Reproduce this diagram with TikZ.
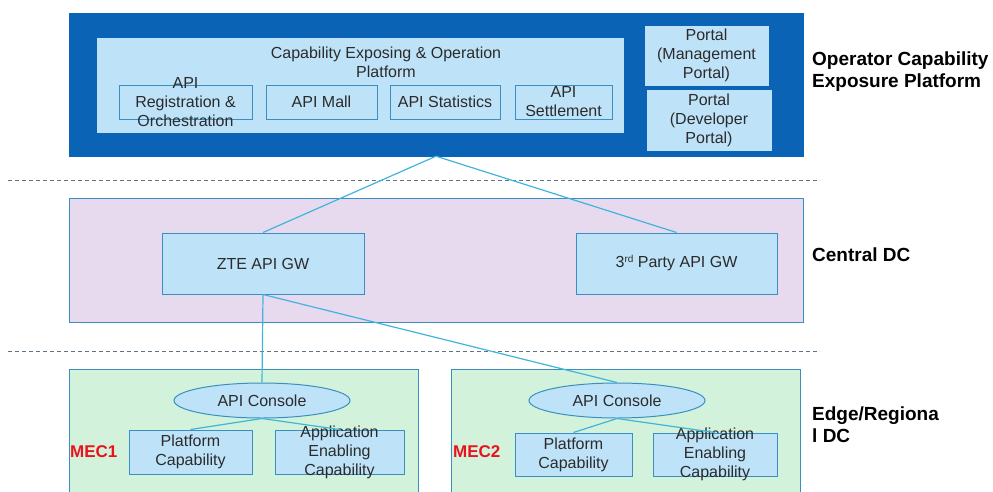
\documentclass[tikz,border=0pt]{standalone}
\usepackage{fontspec}
\setmainfont{Liberation Sans}
\usetikzlibrary{shapes.geometric}
\definecolor{darkb}{HTML}{0B63B5}
\definecolor{lb}{HTML}{BEE3F8}
\definecolor{bord}{HTML}{3A8FC0}
\definecolor{lav}{HTML}{E8DAEE}
\definecolor{grn}{HTML}{D2F2DC}
\definecolor{conn}{HTML}{40B4DC}
\definecolor{dsh}{HTML}{5F7384}
\definecolor{txt}{HTML}{2B2B2B}
\definecolor{redl}{HTML}{E8141C}
\tikzset{
  bx/.style={draw=bord, fill=lb, line width=1pt, inner sep=0pt},
  region/.style={draw=bord, line width=1pt, inner sep=0pt},
  tx/.style={text=txt, font=\fontsize{16}{19}\selectfont, align=center, inner sep=0pt},
  lbl/.style={text=black, font=\fontsize{19}{22}\selectfont\bfseries, align=left, anchor=west, inner sep=0pt},
  mec/.style={text=redl, font=\fontsize{17}{20}\selectfont\bfseries, anchor=west, inner sep=0pt},
  cn/.style={draw=conn, line width=1.2pt},
  sep/.style={draw=dsh, dash pattern=on 4pt off 3pt, line width=0.9pt},
  ell/.style={ellipse, draw=bord, fill=lb, line width=1pt, inner sep=0pt}
}
\begin{document}
\begin{tikzpicture}[x={(1pt,0)}, y={(0,-1pt)}]
\useasboundingbox (0,0) rectangle (993,491);
\fill[white] (0,0) rectangle (993,491);
% separators
\coordinate (s1a) at (8,180); \coordinate (s1b) at (820,180);
\coordinate (s2a) at (8,351); \coordinate (s2b) at (820,351);
\draw[sep] (s1a) -- (s1b);
\draw[sep] (s2a) -- (s2b);
% top platform
\node[draw=darkb, fill=darkb, inner sep=0pt, minimum width=734, minimum height=143] (ocep) at (436,84.5) {};
\node[bx, draw=lb, minimum width=526, minimum height=94] (cep) at (360,85) {};
\node[tx] (ceptitle) at (386,62) {Capability Exposing \& Operation\\Platform};
\node[bx, minimum width=133, minimum height=34] (reg) at (185.5,102) {};
\node[tx] (regt) at (reg.center) {API\\Registration \&\\Orchestration};
\node[bx, minimum width=111, minimum height=34] (mall) at (321.5,102) {};
\node[tx] (mallt) at (mall.center) {API Mall};
\node[bx, minimum width=110, minimum height=34] (stat) at (445,102) {};
\node[tx] (statt) at (stat.center) {API Statistics};
\node[bx, minimum width=97, minimum height=34] (sett) at (563.5,102) {};
\node[tx] (settt) at (sett.center) {API\\Settlement};
\node[bx, draw=lb, minimum width=123, minimum height=59] (pm) at (706.5,55.5) {};
\node[tx] (pmt) at (pm.center) {Portal\\(Management\\Portal)};
\node[bx, draw=lb, minimum width=124, minimum height=60] (pd) at (709,120) {};
\node[tx] (pdt) at (pd.center) {Portal\\(Developer\\Portal)};
\node[lbl] (l1) at (812,72) {Operator Capability\\Exposure Platform};
% central DC
\node[region, fill=lav, minimum width=734, minimum height=124] (cdc) at (436,260) {};
\node[bx, minimum width=202, minimum height=61] (zte) at (263,263.5) {};
\node[tx] (ztet) at (zte.center) {ZTE API GW};
\node[bx, minimum width=201, minimum height=61] (third) at (676.5,263.5) {};
\node[tx] (thirdt) at (third.center) {3{\fontsize{10}{10}\selectfont\raisebox{5pt}{rd}} Party API GW};
\node[lbl] (l2) at (812,255) {Central DC};
% edge
\node[region, fill=grn, minimum width=349, minimum height=130] (mec1) at (243.5,434) {};
\node[region, fill=grn, minimum width=349, minimum height=130] (mec2) at (625.5,434) {};
\node[ell, minimum width=176, minimum height=35] (con1) at (262,400.5) {};
\node[tx] (con1t) at (con1.center) {API Console};
\node[ell, minimum width=176, minimum height=35] (con2) at (617,400.5) {};
\node[tx] (con2t) at (con2.center) {API Console};
\node[bx, minimum width=123, minimum height=44] (pc1) at (190.5,452) {};
\node[tx] (pc1t) at (pc1.center) {Platform\\Capability};
\node[bx, minimum width=129, minimum height=44] (ae1) at (339.5,452) {};
\node[tx] (ae1t) at (ae1.center) {Application\\Enabling\\Capability};
\node[bx, minimum width=117, minimum height=43] (pc2) at (573.5,454.5) {};
\node[tx] (pc2t) at (pc2.center) {Platform\\Capability};
\node[bx, minimum width=124, minimum height=43] (ae2) at (715,454.5) {};
\node[tx] (ae2t) at (ae2.center) {Application\\Enabling\\Capability};
\node[mec] (m1) at (70,452) {MEC1};
\node[mec] (m2) at (453,452) {MEC2};
\node[lbl] (l3) at (812,425) {Edge/Regiona\\l DC};
% connectors
\draw[cn] (ocep.south) -- (zte.north);
\draw[cn] (ocep.south) -- (third.north);
\draw[cn] (zte.south) -- (con1.north);
\draw[cn] (zte.south) -- (con2.north);
\draw[cn] (con1.south) -- (pc1.north);
\draw[cn] (con1.south) -- (ae1.north);
\draw[cn] (con2.south) -- (pc2.north);
\draw[cn] (con2.south) -- (ae2.north);
\end{tikzpicture}
\end{document}
